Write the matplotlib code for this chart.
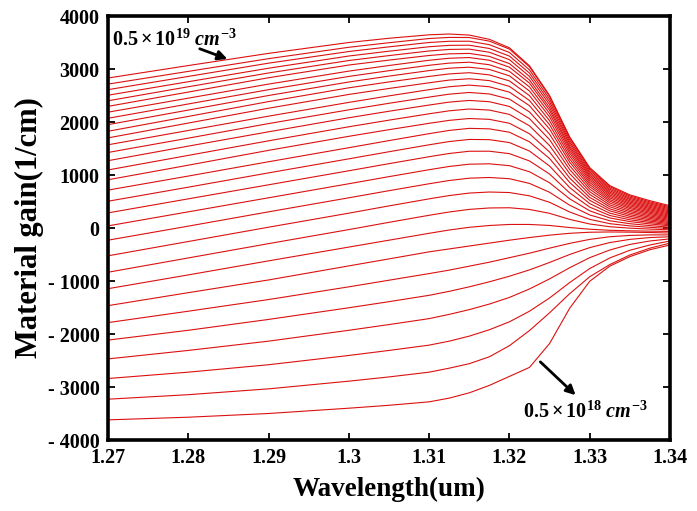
import matplotlib
matplotlib.use("Agg")
import matplotlib.pyplot as plt

# Wavelength sample points (um)
wavelength = [1.27, 1.28, 1.29, 1.30, 1.305, 1.31, 1.3125, 1.315, 1.3175, 1.32,
              1.3225, 1.325, 1.3275, 1.33, 1.3325, 1.335, 1.3375, 1.34]

# Material gain (1/cm) for carrier densities 0.5e18 ... 5.0e18 cm^-3 (step 0.15e18)
gain_n050 = [-3620, -3570, -3500, -3400, -3345, -3280, -3210, -3110, -2970, -2800, -2630, -2180, -1515, -1005, -720, -540, -410, -320]
gain_n065 = [-3230, -3145, -3035, -2890, -2810, -2720, -2645, -2560, -2430, -2220, -1935, -1600, -1240, -920, -690, -510, -380, -285]
gain_n080 = [-2840, -2720, -2580, -2405, -2310, -2210, -2135, -2040, -1920, -1770, -1570, -1320, -1030, -765, -565, -420, -320, -245]
gain_n095 = [-2470, -2310, -2135, -1930, -1822, -1710, -1630, -1540, -1435, -1310, -1150, -960, -750, -560, -415, -310, -245, -205]
gain_n110 = [-2115, -1930, -1725, -1505, -1390, -1270, -1195, -1110, -1015, -910, -790, -650, -500, -370, -275, -215, -180, -165]
gain_n125 = [-1785, -1570, -1350, -1110, -985, -860, -795, -720, -645, -560, -475, -380, -290, -215, -165, -140, -130, -130]
gain_n140 = [-1465, -1220, -980, -715, -583, -450, -395, -340, -285, -230, -180, -135, -100, -80, -75, -78, -85, -95]
gain_n155 = [-1145, -885, -620, -360, -230, -100, -38, 13, 47, 67, 67, 48, 9, -23, -43, -53, -59, -65]
gain_n170 = [-835, -565, -295, -30, 107, 240, 302, 351, 378, 382, 350, 277, 163, 76, 24, -3, -20, -35]
gain_n185 = [-525, -255, 15, 280, 417, 550, 612, 659, 679, 669, 607, 485, 302, 163, 82, 40, 13, -10]
gain_n200 = [-230, 35, 305, 570, 704, 835, 896, 940, 953, 930, 841, 674, 430, 246, 137, 81, 45, 15]
gain_n215 = [40, 305, 570, 835, 969, 1100, 1161, 1204, 1211, 1176, 1061, 853, 551, 324, 190, 121, 77, 40]
gain_n230 = [285, 550, 815, 1080, 1214, 1345, 1406, 1448, 1449, 1403, 1265, 1018, 662, 394, 236, 155, 104, 60]
gain_n245 = [505, 770, 1040, 1305, 1439, 1570, 1631, 1671, 1667, 1612, 1452, 1169, 764, 460, 280, 188, 130, 80]
gain_n260 = [715, 980, 1250, 1515, 1649, 1780, 1841, 1880, 1871, 1807, 1626, 1311, 860, 522, 323, 220, 155, 100]
gain_n275 = [910, 1185, 1465, 1730, 1855, 1975, 2031, 2066, 2050, 1976, 1778, 1434, 943, 577, 361, 250, 180, 120]
gain_n290 = [1095, 1370, 1645, 1910, 2035, 2155, 2211, 2245, 2225, 2143, 1928, 1556, 1027, 632, 400, 280, 204, 140]
gain_n305 = [1270, 1545, 1815, 2080, 2203, 2320, 2375, 2407, 2383, 2293, 2063, 1667, 1104, 684, 436, 309, 228, 160]
gain_n320 = [1425, 1695, 1970, 2230, 2353, 2470, 2525, 2557, 2529, 2432, 2189, 1770, 1176, 733, 472, 337, 252, 180]
gain_n335 = [1570, 1840, 2110, 2370, 2493, 2610, 2665, 2696, 2665, 2563, 2307, 1867, 1244, 779, 506, 365, 276, 200]
gain_n350 = [1700, 1980, 2260, 2520, 2633, 2740, 2791, 2816, 2781, 2672, 2405, 1948, 1302, 820, 536, 390, 298, 220]
gain_n365 = [1825, 2105, 2385, 2645, 2756, 2860, 2907, 2930, 2889, 2775, 2497, 2024, 1357, 859, 567, 416, 321, 240]
gain_n380 = [1950, 2225, 2500, 2755, 2866, 2970, 3015, 3034, 2992, 2871, 2584, 2097, 1410, 897, 596, 441, 343, 260]
gain_n395 = [2070, 2340, 2610, 2860, 2968, 3070, 3111, 3128, 3080, 2955, 2661, 2161, 1457, 932, 624, 465, 365, 280]
gain_n410 = [2185, 2450, 2715, 2960, 3066, 3165, 3203, 3216, 3165, 3035, 2733, 2221, 1502, 966, 651, 489, 387, 300]
gain_n425 = [2295, 2565, 2835, 3075, 3168, 3255, 3286, 3294, 3238, 3102, 2793, 2272, 1541, 996, 677, 512, 408, 320]
gain_n440 = [2400, 2665, 2925, 3160, 3253, 3340, 3369, 3375, 3316, 3176, 2860, 2329, 1584, 1029, 703, 536, 430, 340]
gain_n455 = [2505, 2760, 3015, 3245, 3336, 3420, 3446, 3449, 3387, 3244, 2922, 2382, 1624, 1060, 729, 559, 452, 360]
gain_n470 = [2610, 2860, 3110, 3330, 3418, 3500, 3523, 3524, 3459, 3312, 2983, 2434, 1664, 1092, 755, 582, 473, 380]
gain_n485 = [2715, 2955, 3195, 3410, 3496, 3575, 3596, 3594, 3526, 3376, 3041, 2484, 1703, 1122, 780, 605, 494, 400]
gain_n500 = [2830, 3065, 3295, 3500, 3580, 3645, 3660, 3640, 3560, 3400, 3060, 2500, 1720, 1140, 800, 625, 515, 420]

curves = [gain_n050, gain_n065, gain_n080, gain_n095, gain_n110, gain_n125, gain_n140,
          gain_n155, gain_n170, gain_n185, gain_n200, gain_n215, gain_n230, gain_n245,
          gain_n260, gain_n275, gain_n290, gain_n305, gain_n320, gain_n335, gain_n350,
          gain_n365, gain_n380, gain_n395, gain_n410, gain_n425, gain_n440, gain_n455,
          gain_n470, gain_n485, gain_n500]

x_ticks = [1.27, 1.28, 1.29, 1.30, 1.31, 1.32, 1.33, 1.34]
x_labels = ["1.27", "1.28", "1.29", "1.3", "1.31", "1.32", "1.33", "1.34"]
y_ticks = [-4000, -3000, -2000, -1000, 0, 1000, 2000, 3000, 4000]
y_labels = ["- 4000", "- 3000", "- 2000", "- 1000", "0", "1000", "2000", "3000", "4000"]

plt.rcParams['mathtext.fontset'] = 'custom'
plt.rcParams['mathtext.rm'] = 'Liberation Serif:bold'
plt.rcParams['mathtext.it'] = 'Liberation Serif:bold:italic'
plt.rcParams['mathtext.bf'] = 'Liberation Serif:bold'

fig = plt.figure(figsize=(6.97, 5.11), dpi=100)
ax = fig.add_axes([108/697, 1 - 440/511, (670-108)/697, (440-16)/511])

for c in curves:
    ax.plot(wavelength, c, color='#dc1010', lw=0.8)

ax.set_xlim(1.27, 1.34)
ax.set_ylim(-4000, 4000)
ax.set_xticks(x_ticks)
ax.set_xticklabels(x_labels)
ax.set_yticks(y_ticks)
ax.set_yticklabels(y_labels)

for s in ax.spines.values():
    s.set_linewidth(2.6)
ax.tick_params(direction='in', length=5, width=1.3, top=True, right=True,
               labelsize=14.5, pad=6)
for lab in ax.get_xticklabels() + ax.get_yticklabels():
    lab.set_fontfamily('Liberation Serif')
    lab.set_fontweight('bold')

ax.set_xlabel('Wavelength(um)', fontsize=19.5, fontweight='bold', family='Liberation Serif', labelpad=6)
ax.set_ylabel('Material gain(1/cm)', fontsize=22, fontweight='bold', family='Liberation Serif', labelpad=3)

ax.text(1.2705, 3560, r'$0.5\times10^{19}\ cm^{-3}$', fontsize=14.5, ha='left', va='center')
ax.annotate('', xy=(1.2852, 3170), xytext=(1.2811, 3400),
            arrowprops=dict(arrowstyle='-|>', color='black', lw=2, mutation_scale=14))

ax.text(1.3295, -3460, r'$0.5\times10^{18}\ cm^{-3}$', fontsize=14.5, ha='center', va='center')
ax.annotate('', xy=(1.3285, -3190), xytext=(1.3236, -2490),
            arrowprops=dict(arrowstyle='-|>', color='black', lw=2, mutation_scale=14))

fig.savefig('out.png', dpi=100)
